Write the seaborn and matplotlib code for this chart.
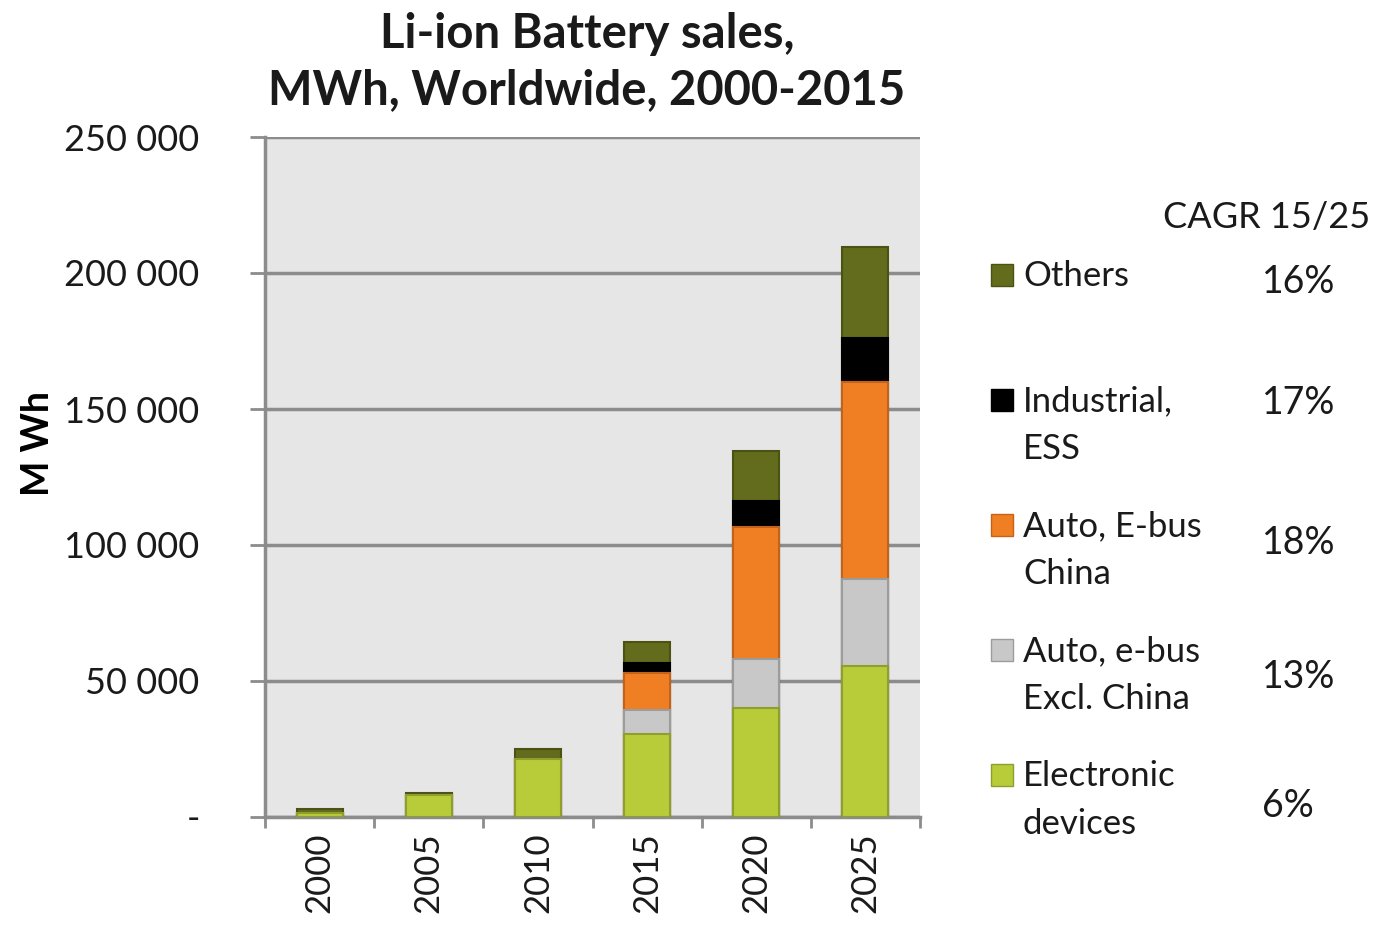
import numpy as np
import pandas as pd
import matplotlib.pyplot as plt
import seaborn as sns
from matplotlib.patches import Rectangle
from matplotlib.ticker import FuncFormatter, FixedLocator

# %% Data (MWh)
years = ['2000', '2005', '2010', '2015', '2020', '2025']
electronic = [1500, 8000, 21500, 30500, 40000, 55500]
auto_excl_china = [0, 0, 0, 9000, 18000, 32000]
auto_china = [0, 0, 0, 13500, 48500, 72500]
industrial = [0, 0, 0, 3500, 9500, 16000]
others = [1500, 1000, 3500, 8000, 18700, 33500]

legend_labels = ['Others', 'Industrial,\nESS', 'Auto, E-bus\nChina',
                 'Auto, e-bus\nExcl. China', 'Electronic\ndevices']
cagr = ['16%', '17%', '18%', '13%', '6%']

# %% Build a table with cumulative heights (bottom -> top)
df = pd.DataFrame({'year': years,
                   'electronic': electronic,
                   'auto_excl_china': auto_excl_china,
                   'auto_china': auto_china,
                   'industrial': industrial,
                   'others': others})
seg_order = ['electronic', 'auto_excl_china', 'auto_china', 'industrial', 'others']
cum = df[seg_order].cumsum(axis=1)
cum['year'] = df['year']

fill_cols = {'electronic': '#b7cc38', 'auto_excl_china': '#c8c8c8',
             'auto_china': '#f07f24', 'industrial': '#000000', 'others': '#636b1c'}
edge_cols = {'electronic': '#8f9e2c', 'auto_excl_china': '#9c9c9c',
             'auto_china': '#c4621a', 'industrial': '#000000', 'others': '#4b5214'}

font = ['Lato', 'DejaVu Sans']
plt.rcParams['font.family'] = font

fig = plt.figure(figsize=(13.74, 9.26), dpi=100)
ax = fig.add_axes([265 / 1374, 1 - 817 / 926, 655 / 1374, 680 / 926])
ax.set_facecolor('#e6e6e6')

# Stacked bars: draw cumulative totals from the top segment down
for seg in reversed(seg_order):
    sns.barplot(data=cum, x='year', y=seg, order=years, color=fill_cols[seg],
                edgecolor=edge_cols[seg], linewidth=1.5, width=0.42,
                saturation=1, ax=ax, zorder=3)

ax.set_ylim(0, 250000)
ax.set_xlim(-0.5, 5.5)

# Grid and spines
ax.yaxis.set_major_locator(FixedLocator(np.arange(0, 250001, 50000)))
ax.grid(axis='y', color='#8c8c8c', linewidth=2.5, zorder=1)
ax.grid(axis='x', visible=False)
ax.set_axisbelow(True)
for side in ['top', 'right']:
    ax.spines[side].set_visible(False)
for side in ['left', 'bottom']:
    ax.spines[side].set_color('#8c8c8c')
    ax.spines[side].set_linewidth(2.5)

# Y tick labels with a space as thousands separator, and "-" for zero
def fmt(v, pos):
    if v == 0:
        return '-'
    return f'{int(v):,}'.replace(',', ' ')
ax.yaxis.set_major_formatter(FuncFormatter(fmt))
ax.tick_params(axis='y', length=11, width=2, color='#8c8c8c', labelsize=26,
               pad=36, labelcolor='#1a1a1a')

# X ticks: labels at bar centres, tick marks at category boundaries
ax.set_xticks(range(len(years)))
ax.set_xticklabels(years, rotation=90)
ax.tick_params(axis='x', which='major', length=0, labelsize=25, pad=11,
               labelcolor='#1a1a1a')
ax.set_xticks(np.arange(-0.5, 6, 1), minor=True)
ax.tick_params(axis='x', which='minor', length=8, width=2, color='#8c8c8c')

ax.set_xlabel('')
ax.set_ylabel('M Wh', fontsize=27, fontweight='bold')
ax.yaxis.set_label_coords(-0.32, 0.55)

fig.text(587 / 1374, 1 - 62 / 926, 'Li-ion Battery sales,\nMWh, Worldwide, 2000-2015',
         ha='center', va='center', fontsize=34, fontweight='bold',
         linespacing=1.35, color='#1a1a1a')

# Custom legend with CAGR column
fig.text(1370 / 1374, 1 - 218 / 926, 'CAGR 15/25', ha='right', va='center',
         fontsize=26, color='#1a1a1a')
legend_segs = ['others', 'industrial', 'auto_china', 'auto_excl_china', 'electronic']
label_y = [275, 400, 525, 650, 775]
cagr_y = [282, 403, 543, 677, 806]
for seg, lab, ly, cval, cy in zip(legend_segs, legend_labels, label_y, cagr, cagr_y):
    fig.patches.append(Rectangle((991 / 1374, 1 - (ly + 11) / 926), 22 / 1374, 22 / 926,
                                 transform=fig.transFigure, facecolor=fill_cols[seg],
                                 edgecolor=edge_cols[seg], linewidth=1))
    fig.text(1023 / 1374, 1 - (ly - 15) / 926, lab, ha='left', va='top',
             fontsize=25, color='#1a1a1a', linespacing=1.6)
    fig.text(1262 / 1374, 1 - cy / 926, cval, ha='left', va='center',
             fontsize=27, color='#1a1a1a')

plt.savefig('out.png', dpi=100)
